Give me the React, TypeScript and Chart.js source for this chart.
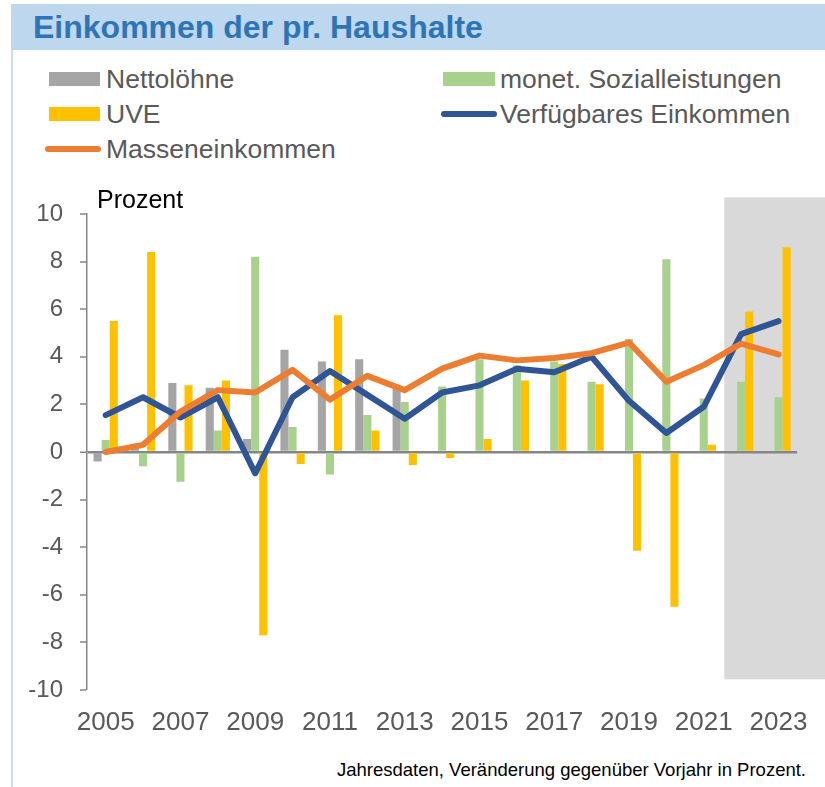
import React, { useEffect, useRef } from "react";
import { Chart, registerables } from "chart.js";

Chart.register(...registerables);

const years = [
  "2005", "2006", "2007", "2008", "2009", "2010", "2011", "2012", "2013", "2014",
  "2015", "2016", "2017", "2018", "2019", "2020", "2021", "2022", "2023",
];
const nettoloehne = [-0.4, 0.35, 2.9, 2.7, 0.55, 4.3, 3.8, 3.9, 2.7, null, null, null, null, null, null, null, null, null, null];
const sozialleistungen = [0.5, -0.6, -1.25, 0.9, 8.2, 1.05, -0.95, 1.55, 2.1, 2.75, 3.9, 3.65, 3.8, 2.95, 4.75, 8.1, 2.25, 2.95, 2.3];
const uve = [5.5, 8.4, 2.8, 3.0, -7.7, -0.5, 5.75, 0.9, -0.55, -0.25, 0.55, 3.0, 3.7, 2.85, -4.15, -6.5, 0.3, 5.9, 8.6];
const verfuegbar = [1.55, 2.3, 1.45, 2.3, -0.9, 2.3, 3.4, 2.4, 1.4, 2.5, 2.8, 3.5, 3.35, 4.0, 2.15, 0.8, 1.9, 4.95, 5.5];
const massen = [0.0, 0.3, 1.7, 2.6, 2.5, 3.45, 2.2, 3.2, 2.6, 3.5, 4.05, 3.85, 3.95, 4.15, 4.6, 2.95, 3.65, 4.55, 4.1];
const yTicks = [-10, -8, -6, -4, -2, 0, 2, 4, 6, 8, 10];

// forecast shading (category index range and value range)
const shadeFromIndex = 16.55;
const shadeTop = 10.7;
const shadeBottom = -9.55;

const FONT = '"Liberation Sans", Arial, sans-serif';
const TEXT = "#595959";

const shadePlugin = {
  id: "shade",
  beforeDraw(chart: any) {
    const { ctx, scales } = chart;
    const x0 = scales.x.getPixelForValue(shadeFromIndex);
    const y0 = scales.y.getPixelForValue(shadeTop);
    const y1 = scales.y.getPixelForValue(shadeBottom);
    ctx.save();
    ctx.fillStyle = "#D9D9D9";
    ctx.fillRect(x0, y0, chart.width - x0, y1 - y0);
    ctx.restore();
  },
};

export default function App() {
  const ref = useRef<HTMLCanvasElement | null>(null);

  useEffect(() => {
    if (!ref.current) return;
    const chart = new Chart(ref.current, {
      type: "bar",
      data: {
        labels: years,
        datasets: [
          {
            type: "line",
            label: "Masseneinkommen",
            data: massen,
            borderColor: "#ED7D31",
            borderWidth: 6,
            pointRadius: 0,
            borderCapStyle: "round",
            borderJoinStyle: "round",
            tension: 0,
            order: 0,
          } as any,
          {
            type: "line",
            label: "Verfügbares Einkommen",
            data: verfuegbar,
            borderColor: "#2F5597",
            borderWidth: 6,
            pointRadius: 0,
            borderCapStyle: "round",
            borderJoinStyle: "round",
            tension: 0,
            order: 1,
          } as any,
          {
            label: "Nettolöhne",
            data: nettoloehne,
            backgroundColor: "#A5A5A5",
            categoryPercentage: 0.65,
            barPercentage: 1,
            order: 2,
          },
          {
            label: "monet. Sozialleistungen",
            data: sozialleistungen,
            backgroundColor: "#A9D18E",
            categoryPercentage: 0.65,
            barPercentage: 1,
            order: 3,
          },
          {
            label: "UVE",
            data: uve,
            backgroundColor: "#FFC000",
            categoryPercentage: 0.65,
            barPercentage: 1,
            order: 4,
          },
        ],
      },
      options: {
        animation: false,
        responsive: false,
        maintainAspectRatio: false,
        layout: { padding: { left: 0, right: 22, top: 34, bottom: 0 } },
        plugins: {
          legend: { display: false },
          tooltip: { enabled: false },
        },
        scales: {
          x: {
            type: "category",
            grid: { display: false, drawTicks: false },
            border: { display: false },
            ticks: {
              autoSkip: false,
              maxRotation: 0,
              minRotation: 0,
              padding: 17,
              color: TEXT,
              font: { family: FONT, size: 26 },
              callback: (_v: any, i: number) => (i % 2 === 0 ? years[i] : ""),
            },
            afterFit: (s: any) => {
              s.height = 50;
            },
          },
          y: {
            min: -10,
            max: 10,
            afterBuildTicks: (s: any) => {
              s.ticks = yTicks.map((v) => ({ value: v }));
            },
            grid: {
              drawTicks: true,
              tickLength: 7,
              tickColor: "#868686",
              tickWidth: 1.5,
              color: (c: any) => (c.tick && c.tick.value === 0 ? "#868686" : "rgba(0,0,0,0)"),
              lineWidth: (c: any) => (c.tick && c.tick.value === 0 ? 2.5 : 0),
            },
            border: { display: true, color: "#868686", width: 1.5 },
            ticks: {
              padding: 17,
              color: TEXT,
              font: { family: FONT, size: 24 },
              callback: (v: any) => String(v),
            },
            afterFit: (s: any) => {
              s.width = 87;
            },
          },
        },
      },
      plugins: [shadePlugin],
    });
    return () => chart.destroy();
  }, []);

  const legendText: React.CSSProperties = {
    position: "absolute",
    fontSize: 26.5,
    color: TEXT,
    lineHeight: "30px",
    whiteSpace: "nowrap",
  };
  const swatch = (left: number, top: number, w: number, h: number, color: string, round = false): React.CSSProperties => ({
    position: "absolute",
    left,
    top,
    width: w,
    height: h,
    background: color,
    borderRadius: round ? h / 2 : 0,
  });

  return (
    <div
      style={{
        position: "absolute",
        left: 0,
        top: 0,
        width: 825,
        height: 787,
        overflow: "hidden",
        background: "#fff",
        fontFamily: FONT,
      }}
    >
      <div style={{ position: "absolute", left: 11, top: 4, width: 2, height: 783, background: "#C9DDF0" }} />
      <div style={{ position: "absolute", left: 11, top: 4, width: 814, height: 46, background: "#BDD7EE" }} />
      <div
        style={{
          position: "absolute",
          left: 33,
          top: 8,
          fontSize: 32,
          fontWeight: "bold",
          color: "#2E75B6",
          lineHeight: "38px",
          whiteSpace: "nowrap",
        }}
      >
        Einkommen der pr. Haushalte
      </div>

      <div style={swatch(49, 72, 51, 14, "#A5A5A5")} />
      <div style={{ ...legendText, left: 106, top: 64 }}>Nettolöhne</div>
      <div style={swatch(443, 72, 52, 14, "#A9D18E")} />
      <div style={{ ...legendText, left: 500, top: 64 }}>monet. Sozialleistungen</div>

      <div style={swatch(49, 107, 51, 14, "#FFC000")} />
      <div style={{ ...legendText, left: 106, top: 99 }}>UVE</div>
      <div style={swatch(441, 111, 56, 6, "#2F5597", true)} />
      <div style={{ ...legendText, left: 500, top: 99 }}>Verfügbares Einkommen</div>

      <div style={swatch(45, 146, 56, 6, "#ED7D31", true)} />
      <div style={{ ...legendText, left: 106, top: 134 }}>Masseneinkommen</div>

      <canvas
        ref={ref}
        width={825}
        height={560}
        style={{ position: "absolute", left: 0, top: 180, width: 825, height: 560 }}
      />

      <div
        style={{
          position: "absolute",
          left: 97,
          top: 185,
          fontSize: 25,
          color: "#000",
          lineHeight: "28px",
          whiteSpace: "nowrap",
        }}
      >
        Prozent
      </div>

      <div
        style={{
          position: "absolute",
          right: 19,
          top: 759,
          fontSize: 18.5,
          color: "#000",
          lineHeight: "22px",
          whiteSpace: "nowrap",
        }}
      >
        Jahresdaten, Veränderung gegenüber Vorjahr in Prozent.
      </div>
    </div>
  );
}
